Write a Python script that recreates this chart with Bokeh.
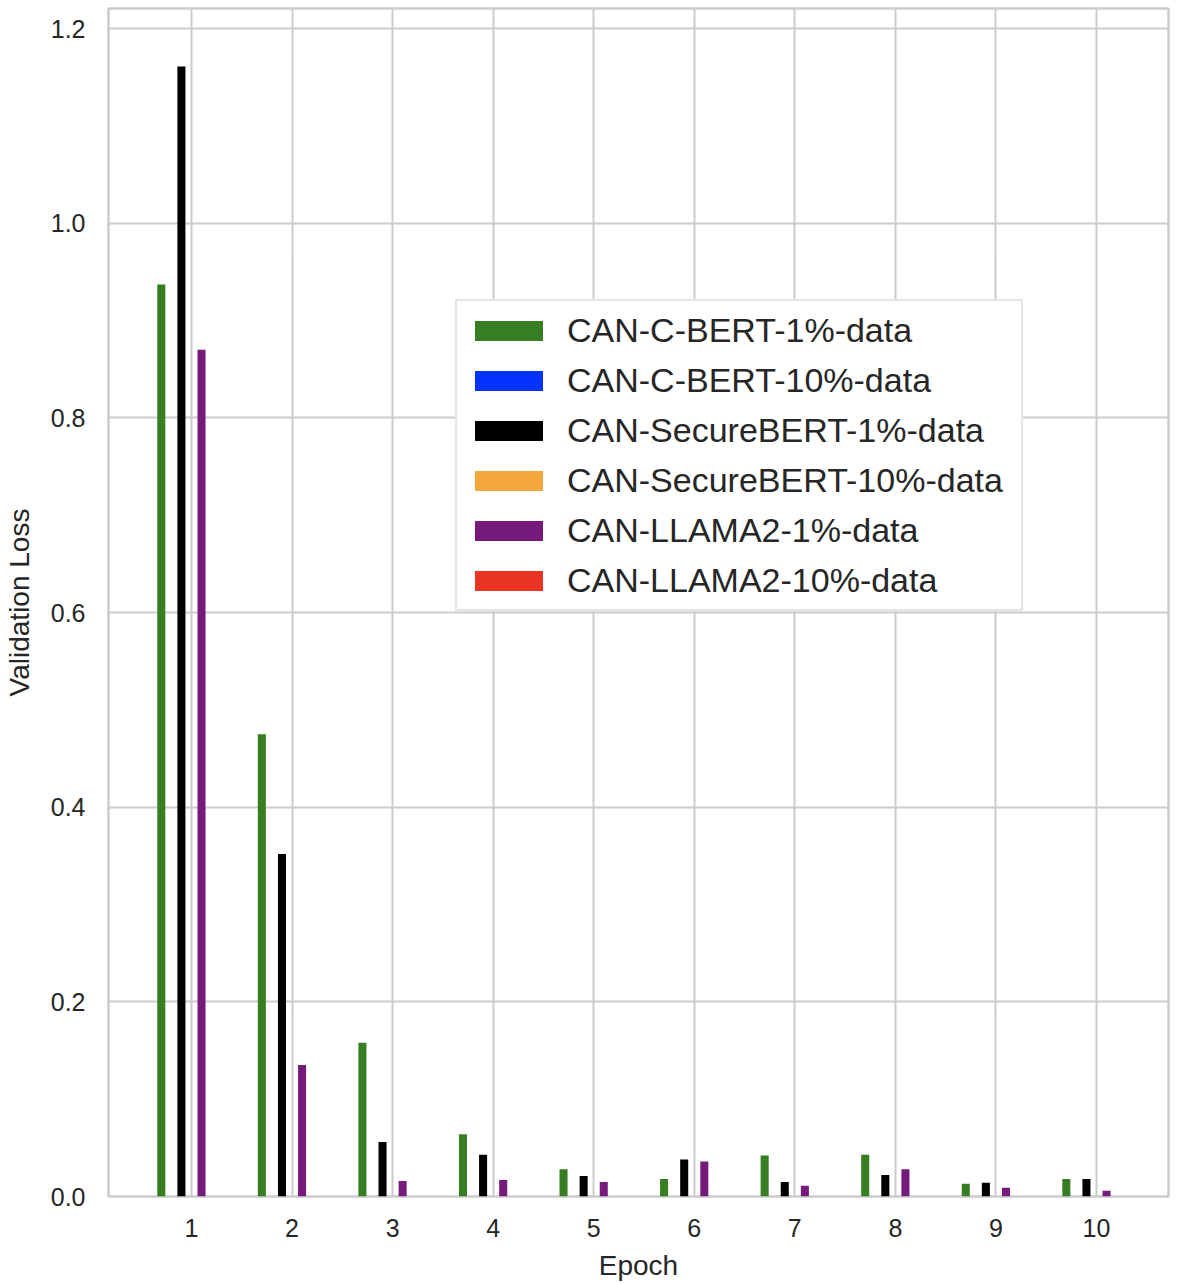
import numpy as np
from bokeh.plotting import figure
from bokeh.models import Legend, LegendItem, Range1d, FixedTicker, CustomJSTickFormatter
from bokeh.embed import file_html
from bokeh.resources import INLINE

# ---- data ----
epochs = [1, 2, 3, 4, 5, 6, 7, 8, 9, 10]
cbert_1 = [0.937, 0.475, 0.158, 0.064, 0.028, 0.018, 0.042, 0.043, 0.013, 0.018]
cbert_10 = [0.0, 0.0, 0.0, 0.0, 0.0, 0.0, 0.0, 0.0, 0.0, 0.0]
secbert_1 = [1.161, 0.352, 0.056, 0.043, 0.021, 0.038, 0.015, 0.022, 0.014, 0.018]
secbert_10 = [0.0, 0.0, 0.0, 0.0, 0.0, 0.0, 0.0, 0.0, 0.0, 0.0]
llama_1 = [0.870, 0.135, 0.016, 0.017, 0.015, 0.036, 0.011, 0.028, 0.009, 0.006]
llama_10 = [0.0, 0.0, 0.0, 0.0, 0.0, 0.0, 0.0, 0.0, 0.0, 0.0]

labels = [
    "CAN-C-BERT-1%-data",
    "CAN-C-BERT-10%-data",
    "CAN-SecureBERT-1%-data",
    "CAN-SecureBERT-10%-data",
    "CAN-LLAMA2-1%-data",
    "CAN-LLAMA2-10%-data",
]
series = [cbert_1, cbert_10, secbert_1, secbert_10, llama_1, llama_10]
colors = ["#377e22", "#0433ff", "#000000", "#f3a73c", "#761b7c", "#ea3323"]
y_ticks = [0.0, 0.2, 0.4, 0.6, 0.8, 1.0, 1.2]

FONT = "Liberation Sans"
TXT = "#262626"
GRID = "#cccccc"

p = figure(
    frame_width=1060,
    frame_height=1188,
    min_border_left=103,
    min_border_right=2,
    min_border_top=8,
    min_border_bottom=78,
    x_range=Range1d(0.175, 10.716),
    y_range=Range1d(0.0, 1.2206),
    output_backend="svg",
    toolbar_location=None,
)

bar_w = 0.08
step = 0.1
renderers = []
for i, (vals, col) in enumerate(zip(series, colors)):
    xs = np.array(epochs, dtype=float) + (i - 3) * step
    r = p.vbar(x=xs, top=vals, bottom=0, width=bar_w, fill_color=col, line_color=None)
    renderers.append(r)

# axes
p.xaxis.ticker = FixedTicker(ticks=epochs)
p.yaxis.ticker = FixedTicker(ticks=y_ticks)
p.yaxis.formatter = CustomJSTickFormatter(code="return tick.toFixed(1);")

for ax in (p.xaxis[0], p.yaxis[0]):
    ax.axis_line_color = None
    ax.major_tick_line_color = None
    ax.minor_tick_line_color = None
    ax.major_tick_in = 0
    ax.major_tick_out = 0
    ax.major_label_text_font = FONT
    ax.major_label_text_font_size = "25px"
    ax.major_label_text_color = TXT
    ax.axis_label_text_font = FONT
    ax.axis_label_text_font_size = "28px"
    ax.axis_label_text_font_style = "normal"
    ax.axis_label_text_color = TXT

p.xaxis.axis_label = "Epoch"
p.yaxis.axis_label = "Validation Loss"
p.xaxis.major_label_standoff = 22
p.yaxis.major_label_standoff = 23
p.xaxis.axis_label_standoff = 10
p.yaxis.axis_label_standoff = 13

p.xgrid.grid_line_color = GRID
p.ygrid.grid_line_color = GRID
p.xgrid.grid_line_width = 2
p.ygrid.grid_line_width = 2

p.outline_line_color = GRID
p.outline_line_width = 2.5
p.background_fill_color = "white"
p.border_fill_color = "white"

legend = Legend(
    items=[LegendItem(label=lab, renderers=[r]) for lab, r in zip(labels, renderers)],
    location=(347, 585),
    label_text_font=FONT,
    label_text_font_size="34px",
    label_text_color=TXT,
    glyph_width=85,
    glyph_height=25,
    label_height=40,
    label_width=445,
    label_standoff=16,
    spacing=10,
    padding=9,
    margin=0,
    border_line_color=GRID,
    border_line_width=2,
    background_fill_color="white",
    background_fill_alpha=1.0,
)
p.add_layout(legend, "center")

open("out.html", "w").write(file_html(p, INLINE))
